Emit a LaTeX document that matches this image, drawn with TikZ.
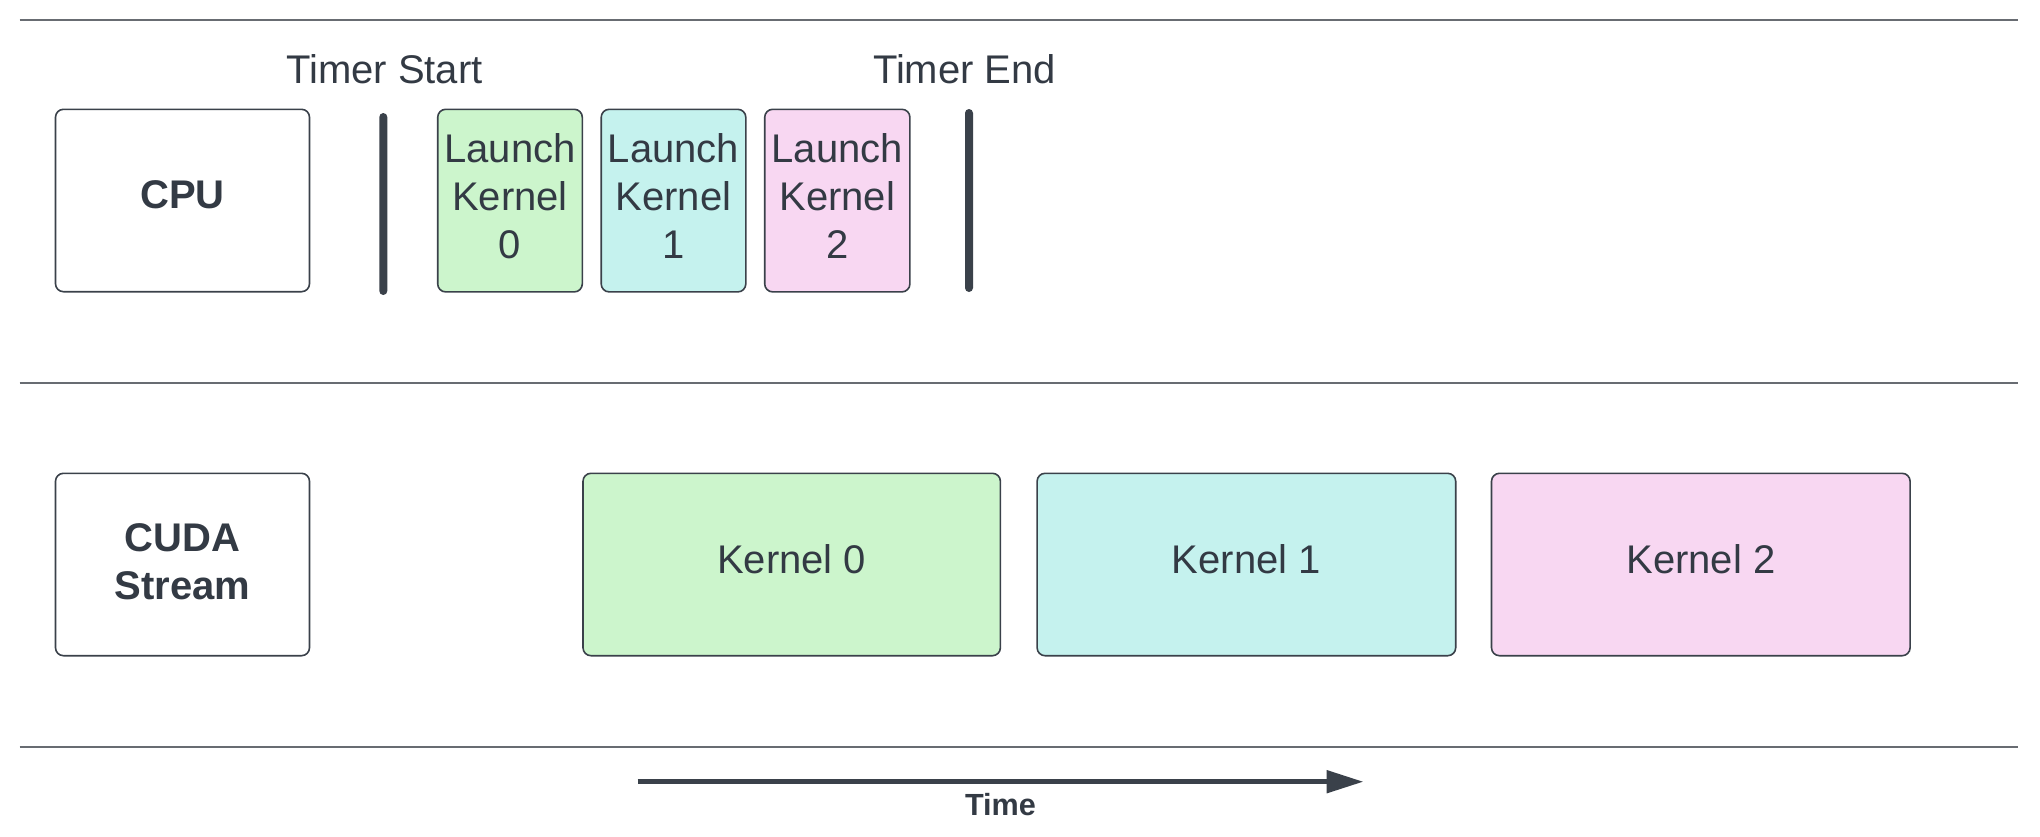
\documentclass[tikz,border=0pt]{standalone}
\usepackage{fontspec}
\setmainfont{Liberation Sans}
\usetikzlibrary{arrows.meta}
\definecolor{ink}{HTML}{333A44}
\definecolor{edge}{HTML}{3A414A}
\definecolor{sep}{HTML}{686C72}
\definecolor{kgreen}{HTML}{CCF5CC}
\definecolor{kcyan}{HTML}{C5F2EE}
\definecolor{kpink}{HTML}{F8D7F2}
\tikzset{
  box/.style={draw=edge, line width=0.8pt, rounded corners=4pt, inner sep=0pt, outer sep=0pt},
  txt/.style={font=\fontsize{20pt}{24pt}\selectfont, text=ink, inner sep=0pt, anchor=base},
  btxt/.style={font=\fontsize{20pt}{24pt}\selectfont\bfseries, text=ink, inner sep=0pt, anchor=base},
  bar/.style={fill=edge, draw=none, rounded corners=2pt, minimum width=4pt, inner sep=0pt},
  sepline/.style={draw=sep, line width=1pt},
  timearrow/.style={draw=edge, line width=2.6pt, -{Triangle[length=18.5pt,width=11pt]}}
}
\begin{document}
\begin{tikzpicture}[x=0.5pt,y=-0.5pt]
\useasboundingbox (0,0) rectangle (2040,836);
% separators
\coordinate (s1a) at (19.5,19.5); \coordinate (s1b) at (2018,19.5);
\coordinate (s2a) at (19.5,382.5); \coordinate (s2b) at (2018,382.5);
\coordinate (s3a) at (19.5,746.5); \coordinate (s3b) at (2018,746.5);
\draw[sepline] (s1a) -- (s1b);
\draw[sepline] (s2a) -- (s2b);
\draw[sepline] (s3a) -- (s3b);
% CPU row
\node[box, fill=white, minimum width=127pt, minimum height=91.2pt] (cpu) at (182.5,200.5) {};
\node[btxt] (cputxt) at (182.5,208.2) {CPU};
\node[bar, minimum height=91pt] (tstart) at (383.3,204) {};
\node[txt] (tstarttxt) at (384.5,83.2) {Timer Start};
\node[box, fill=kgreen, minimum width=72.3pt, minimum height=91.3pt] (l0) at (510,200.6) {};
\node[box, fill=kcyan, minimum width=72.3pt, minimum height=91.3pt] (l1) at (673.5,200.6) {};
\node[box, fill=kpink, minimum width=72.6pt, minimum height=91.3pt] (l2) at (837.3,200.6) {};
\node[txt] (l0txt) at (510,162.2) {\begin{tabular}[t]{@{}c@{}}Launch\\Kernel\\0\end{tabular}};
\node[txt] (l1txt) at (673.5,162.2) {\begin{tabular}[t]{@{}c@{}}Launch\\Kernel\\1\end{tabular}};
\node[txt] (l2txt) at (837.3,162.2) {\begin{tabular}[t]{@{}c@{}}Launch\\Kernel\\2\end{tabular}};
\node[bar, minimum height=91.5pt] (tend) at (969,200.5) {};
\node[txt] (tendtxt) at (964.6,83.2) {Timer End};
% CUDA stream row
\node[box, fill=white, minimum width=127pt, minimum height=91.2pt] (cuda) at (182.5,564.5) {};
\node[btxt] (cudatxt) at (182.5,551.5) {\begin{tabular}[t]{@{}c@{}}CUDA\\Stream\end{tabular}};
\node[box, fill=kgreen, minimum width=208.7pt, minimum height=91.2pt] (k0) at (791.7,564.5) {};
\node[box, fill=kcyan, minimum width=209.3pt, minimum height=91.2pt] (k1) at (1246.4,564.5) {};
\node[box, fill=kpink, minimum width=209.3pt, minimum height=91.2pt] (k2) at (1700.8,564.5) {};
\node[txt] (k0txt) at (791.7,573.2) {Kernel 0};
\node[txt] (k1txt) at (1246.4,573.2) {Kernel 1};
\node[txt] (k2txt) at (1700.8,573.2) {Kernel 2};
% time arrow
\coordinate (ta) at (637.5,781.7);
\coordinate (tb) at (1363.5,781.7);
\draw[timearrow] (ta) -- (tb);
\node[btxt, font=\fontsize{15.3pt}{18pt}\selectfont\bfseries] (timetxt) at (1000.5,815.8) {Time};
\end{tikzpicture}
\end{document}
